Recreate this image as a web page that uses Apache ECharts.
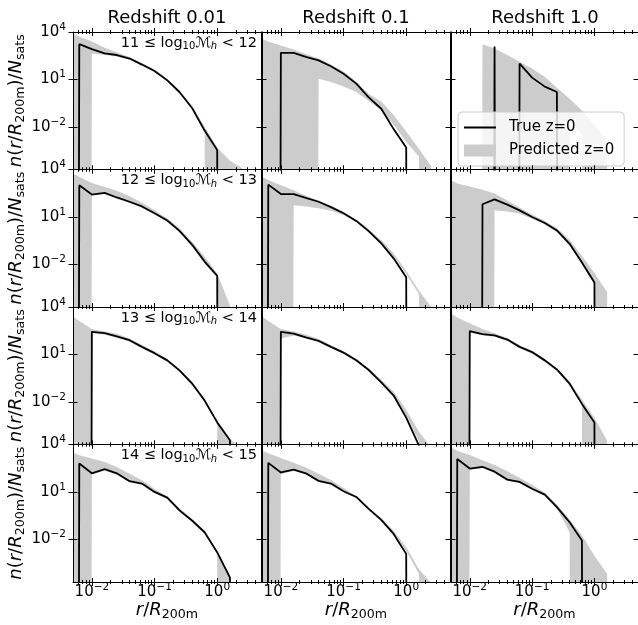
<!DOCTYPE html>
<html><head><meta charset="utf-8">
<script src="https://cdn.jsdelivr.net/npm/echarts@6/dist/echarts.min.js"></script>
<style>html,body{margin:0;padding:0;background:#fff}#c{width:638px;height:625px}</style>
</head><body><div id="c"></div>
<script>
// ---- data (bin centres in r/R200m; values of n(r/R200m)/Nsats, 0 = empty bin) ----
const radius = [0.004, 0.0063, 0.01, 0.016, 0.025, 0.04, 0.063, 0.1, 0.16, 0.25, 0.4, 0.63, 1.0, 1.6, 2.5, 4.0];
const redshiftTitles = ['Redshift 0.01', 'Redshift 0.1', 'Redshift 1.0'];
const massBins = [[11, 12], [12, 13], [13, 14], [14, 15]];
const xMajorTicks = [0.01, 0.1, 1];
const xMinorTicks = [0.006, 0.007, 0.008, 0.009, 0.02, 0.03, 0.04, 0.05, 0.06, 0.07, 0.08, 0.09, 0.2, 0.3, 0.4, 0.5, 0.6, 0.7, 0.8, 0.9, 2, 3, 4];
const yMajorTicks = [1e4, 10, 0.01];

// mass bin 11-12
const line_M11_z001  = [0, 1.7e3, 8.3e2, 4.4e2, 3.5e2, 2.1e2, 87, 34, 8.7, 1.6, 0.15, 5.8e-3, 3.4e-4, 0, 0, 0];
const upper_M11_z001 = [1.3e4, 5.2e3, 2.5e3, 1.0e3, 5.2e2, 2.6e2, 1.1e2, 42, 11, 1.9, 0.2, 0.01, 5.0e-4, 7.1e-5, 2.5e-5, 0];
const lower_M11_z001 = [0, 0, 4.4e2, 3.5e2, 2.8e2, 1.8e2, 76, 30, 7.6, 1.3, 0.12, 4.5e-3, 0, 0, 0, 0];
const line_M11_z01   = [0, 0, 4.8e2, 4.8e2, 2.7e2, 1.6e2, 68, 23, 5.4, 0.76, 0.14, 7.2e-3, 4.9e-4, 0, 0, 0];
const upper_M11_z01  = [5.6e3, 2.5e3, 1.4e3, 7.9e2, 4.0e2, 2.1e2, 89, 32, 7.1, 1.26, 0.4, 0.056, 5.0e-3, 4.0e-4, 3.2e-5, 0];
const lower_M11_z01  = [0, 0, 0, 0, 0, 11, 6.9, 3.6, 1.6, 0.45, 0.11, 0.014, 1.1e-3, 1.3e-4, 0, 0];
const line_M11_z1    = [0, 0, 0, 0, 1.2e3, 0, 1.0e2, 13, 3.5, 1.6, 0, 0, 0, 0, 0, 0];
const upper_M11_z1   = [0, 0, 0, 1.7e3, 9.1e2, 3.5e2, 1.3e2, 49, 14, 3.0, 0.6, 0.11, 0.013, 1.3e-3, 0, 0];
const lower_M11_z1   = [0, 0, 0, 0, 0, 0, 0, 0, 0, 0, 0.032, 3.2e-3, 0, 0, 0, 0];
// mass bin 12-13
const line_M12_z001  = [0, 1.0e3, 2.6e2, 3.3e2, 1.7e2, 91, 46, 17, 5.9, 1.3, 0.17, 0.015, 1.9e-3, 0, 0, 0];
const upper_M12_z001 = [8.9e3, 3.5e3, 1.4e3, 7.9e2, 4.5e2, 2.0e2, 79, 26, 7.9, 1.9, 0.25, 0.031, 2.6e-3, 2.5e-5, 0, 0];
const lower_M12_z001 = [0, 0, 2.4e2, 2.8e2, 1.4e2, 76, 38, 14, 4.8, 1.07, 0.13, 0.011, 1.4e-3, 0, 0, 0];
const line_M12_z01   = [0, 1.1e3, 2.8e2, 2.8e2, 1.6e2, 91, 42, 17, 5.6, 1.3, 0.21, 0.024, 1.5e-3, 0, 0, 0];
const upper_M12_z01  = [5.6e3, 2.2e3, 1.0e3, 4.8e2, 2.2e2, 1.1e2, 50, 21, 6.6, 1.7, 0.35, 0.05, 4.0e-3, 2.1e-4, 2.0e-5, 0];
const lower_M12_z01  = [0, 0, 0, 55, 46, 36, 25, 13, 4.5, 1.05, 0.18, 0.032, 2.5e-3, 1.3e-4, 0, 0];
const line_M12_z1    = [0, 0, 0, 63, 1.3e2, 60, 26, 9.8, 4.1, 1.4, 0.2, 0.013, 7.1e-4, 0, 0, 0];
const upper_M12_z1   = [3.2e3, 1.3e3, 8.3e2, 5.2e2, 3.0e2, 1.1e2, 40, 14, 5.6, 2.0, 0.35, 0.035, 2.8e-3, 1.7e-4, 0, 0];
const lower_M12_z1   = [0, 0, 0, 0, 26, 22, 16, 7.6, 3.3, 1.07, 0.15, 0.011, 5.0e-4, 0, 0, 0];
// mass bin 13-14
const line_M13_z001  = [0, 0, 2.7e2, 2.2e2, 1.4e2, 79, 30, 12, 4.2, 0.98, 0.14, 0.012, 5.0e-4, 3.7e-5, 0, 0];
const upper_M13_z001 = [5.0e3, 1.3e3, 4.0e2, 2.8e2, 2.0e2, 1.0e2, 40, 16, 5.2, 1.26, 0.18, 0.016, 7.1e-4, 4.5e-5, 1.0e-5, 0];
const lower_M13_z001 = [0, 0, 2.2e2, 1.8e2, 1.1e2, 63, 25, 10, 3.3, 0.79, 0.11, 0.01, 4.0e-4, 0, 0, 0];
const line_M13_z01   = [0, 0, 2.7e2, 2.1e2, 1.2e2, 72, 30, 13, 4.3, 1.07, 0.17, 0.025, 1.0e-3, 1.7e-5, 0, 0];
const upper_M13_z01  = [5.0e3, 1.3e3, 4.0e2, 2.8e2, 1.8e2, 95, 40, 16, 5.2, 1.3, 0.25, 0.045, 3.2e-3, 1.3e-4, 1.3e-5, 0];
const lower_M13_z01  = [0, 0, 1.0e2, 1.6e2, 1.0e2, 60, 25, 11, 3.5, 0.89, 0.16, 0.025, 1.3e-3, 3.2e-5, 0, 0];
const line_M13_z1    = [0, 0, 3.0e2, 1.9e2, 1.6e2, 87, 30, 14, 4.2, 1.12, 0.14, 7.4e-3, 5.0e-4, 0, 0, 0];
const upper_M13_z1   = [7.1e3, 2.2e3, 9.5e2, 4.0e2, 2.2e2, 1.1e2, 40, 17, 5.2, 1.3, 0.19, 0.014, 1.0e-3, 3.4e-5, 0, 0];
const lower_M13_z1   = [0, 0, 2.4e2, 1.6e2, 1.3e2, 71, 25, 11, 3.3, 0.89, 0.11, 6.3e-3, 0, 0, 0, 0];
// mass bin 14-15
const line_M14_z001  = [0, 6.3e2, 1.5e2, 2.8e2, 1.5e2, 48, 34, 10, 4.4, 0.68, 0.15, 0.028, 1.5e-3, 3.8e-5, 0, 0];
const upper_M14_z001 = [4.5e3, 2.1e3, 1.3e3, 7.9e2, 3.8e2, 1.4e2, 54, 16, 5.2, 0.95, 0.19, 0.032, 2.0e-3, 5.0e-5, 0, 0];
const lower_M14_z001 = [0, 0, 1.3e2, 2.2e2, 1.2e2, 40, 28, 8.3, 3.5, 0.56, 0.13, 0.022, 1.1e-3, 0, 0, 0];
const line_M14_z01   = [0, 6.9e2, 1.7e2, 2.6e2, 1.5e2, 50, 34, 11, 4.8, 0.87, 0.17, 0.022, 1.2e-3, 0, 0, 0];
const upper_M14_z01  = [6.3e3, 2.8e3, 1.4e3, 7.1e2, 3.5e2, 1.4e2, 56, 18, 5.6, 1.05, 0.22, 0.035, 3.2e-3, 1.3e-4, 1.8e-5, 0];
const lower_M14_z01  = [0, 0, 1.3e2, 2.2e2, 1.3e2, 42, 28, 9.5, 4.0, 0.72, 0.14, 0.025, 1.8e-3, 6.3e-5, 0, 0];
const line_M14_z1    = [0, 1.2e3, 3.0e2, 3.9e2, 1.9e2, 60, 43, 16, 6.8, 1.1, 0.12, 8.3e-3, 0, 0, 0, 0];
const upper_M14_z1   = [1.0e4, 4.0e3, 2.2e3, 1.0e3, 5.0e2, 2.0e2, 79, 28, 8.9, 1.6, 0.18, 0.018, 9.1e-4, 6.3e-5, 0, 0];
const lower_M14_z1   = [0, 0, 2.5e2, 3.2e2, 1.6e2, 50, 35, 13, 5.6, 0.89, 0.028, 0, 0, 0, 0, 0];

const panels = [
  [line_M11_z001, upper_M11_z001, lower_M11_z001], [line_M11_z01, upper_M11_z01, lower_M11_z01], [line_M11_z1, upper_M11_z1, lower_M11_z1],
  [line_M12_z001, upper_M12_z001, lower_M12_z001], [line_M12_z01, upper_M12_z01, lower_M12_z01], [line_M12_z1, upper_M12_z1, lower_M12_z1],
  [line_M13_z001, upper_M13_z001, lower_M13_z001], [line_M13_z01, upper_M13_z01, lower_M13_z01], [line_M13_z1, upper_M13_z1, lower_M13_z1],
  [line_M14_z001, upper_M14_z001, lower_M14_z001], [line_M14_z01, upper_M14_z01, lower_M14_z01], [line_M14_z1, upper_M14_z1, lower_M14_z1]
];

// ---- layout / style ----
const F = 'DejaVu Sans';
const colLeft = [73, 262, 451];
const gridW = 188, rowTop = 32, rowH = 137.5;
const XMIN = 0.005, XMAX = 5, YMIN = 2e-5, YMAX = 1e4;
const EMPTY = 1e-300; // stands for an empty bin (log of zero)
const GRAY = '#cccccc';
const pos = v => (v > 0 ? v : EMPTY);

const tickRich = {
  b: {fontSize: 15, fontFamily: F, color: '#000'},
  p: {fontSize: 10.5, fontFamily: F, color: '#000', padding: [0, 0, 10, 0]}
};
const nameRich = {
  t: {fontSize: 18, fontFamily: F, color: '#000'},
  i: {fontSize: 18, fontFamily: F, color: '#000', fontStyle: 'italic'},
  s: {fontSize: 12.6, fontFamily: F, color: '#000', padding: [9, 0, 0, 0]}
};
function powLabel(v) {
  const e = Math.round(Math.log10(v));
  return '{b|10}{p|' + (e < 0 ? '\u2212' + (-e) : e) + '}';
}
const tickLine = {color: '#000', width: 1};

function axisBase(g, position, extra, isX) {
  return Object.assign({
    type: 'log', logBase: 10, gridIndex: g, position: position,
    min: isX ? XMIN : YMIN, max: isX ? XMAX : YMAX, z: 10,
    axisLine: {show: false}, axisLabel: {show: false}, splitLine: {show: false}, axisTick: {show: false}
  }, extra);
}
function tickOnly(g, position, inside, len, vals, isX) {
  return axisBase(g, position, {axisTick: {show: true, inside: inside, length: len, customValues: vals, lineStyle: tickLine}}, isX);
}

const option = {
  animation: false,
  textStyle: {fontFamily: F},
  grid: [], xAxis: [], yAxis: [], series: [], graphic: [],
  legend: {
    data: [
      {name: 'True z=0', icon: 'path://M0,0H32V2H0Z'},
      {name: 'Predicted z=0', icon: 'rect'}
    ],
    orient: 'vertical', left: 458, top: 112, itemWidth: 32, itemHeight: 12, itemGap: 8,
    padding: [8, 10, 8, 6], borderColor: '#cccccc', borderWidth: 1, borderRadius: 4,
    backgroundColor: 'rgba(255,255,255,0.8)', selectedMode: false,
    textStyle: {fontSize: 15, fontFamily: F, color: '#000', padding: [0, 0, 0, 8]}
  }
};

for (let r = 0; r < 4; r++) {
  for (let c = 0; c < 3; c++) {
    const g = r * 3 + c;
    option.grid.push({left: colLeft[c], top: rowTop + r * rowH, width: gridW, height: rowH});
    const xPrim = option.xAxis.length;
    option.xAxis.push(axisBase(g, 'bottom', {
      axisLine: {show: true, lineStyle: tickLine},
      axisTick: {show: true, inside: true, length: 4, customValues: xMajorTicks, lineStyle: tickLine},
      axisLabel: r === 3 ? {show: true, customValues: xMajorTicks, formatter: powLabel, margin: 0, rich: tickRich} : {show: false},
      name: r === 3 ? '{i|r}{t|/}{i|R}{s|200m}' : '', nameLocation: 'middle', nameGap: 16,
      nameTextStyle: {rich: nameRich}
    }, true));
    option.xAxis.push(tickOnly(g, 'bottom', false, 4, xMajorTicks, true));
    option.xAxis.push(tickOnly(g, 'bottom', true, 2, xMinorTicks, true));
    option.xAxis.push(tickOnly(g, 'bottom', false, 2, xMinorTicks, true));
    option.xAxis.push(axisBase(g, 'top', {
      axisLine: {show: true, lineStyle: tickLine},
      axisTick: {show: true, inside: true, length: 4, customValues: xMajorTicks, lineStyle: tickLine}
    }, true));
    option.xAxis.push(tickOnly(g, 'top', false, 4, xMajorTicks, true));
    option.xAxis.push(tickOnly(g, 'top', true, 2, xMinorTicks, true));
    option.xAxis.push(tickOnly(g, 'top', false, 2, xMinorTicks, true));

    const yPrim = option.yAxis.length;
    option.yAxis.push(axisBase(g, 'left', {
      axisLine: {show: true, lineStyle: tickLine},
      axisTick: {show: true, inside: true, length: 4.5, customValues: yMajorTicks, lineStyle: tickLine},
      axisLabel: c === 0 ? {show: true, customValues: yMajorTicks, formatter: powLabel, margin: 7, rich: tickRich} : {show: false},
      name: c === 0 ? '{i|n}{t|(}{i|r}{t|/}{i|R}{s|200m}{t|)/}{i|N}{s|sats}' : '',
      nameLocation: 'middle', nameRotate: 90, nameGap: 29,
      nameTextStyle: {rich: nameRich}
    }, false));
    option.yAxis.push(tickOnly(g, 'left', false, 4.5, yMajorTicks, false));
    option.yAxis.push(axisBase(g, 'right', {
      axisLine: {show: true, lineStyle: tickLine},
      axisTick: {show: true, inside: true, length: 4.5, customValues: yMajorTicks, lineStyle: tickLine}
    }, false));
    option.yAxis.push(tickOnly(g, 'right', false, 4.5, yMajorTicks, false));

    const [lineVals, upVals, loVals] = panels[g];
    option.series.push({
      name: 'Predicted z=0', type: 'custom', coordinateSystem: 'cartesian2d',
      xAxisIndex: xPrim, yAxisIndex: yPrim, clip: true, z: 2,
      itemStyle: {color: GRAY},
      data: [[1, 1]],
      renderItem: function (params, api) {
        const pts = [];
        for (let i = 0; i < radius.length; i++) pts.push(api.coord([radius[i], pos(upVals[i])]));
        for (let i = radius.length - 1; i >= 0; i--) pts.push(api.coord([radius[i], pos(loVals[i])]));
        const cs = params.coordSys;
        return {
          type: 'polygon', shape: {points: pts}, style: {fill: GRAY, stroke: null},
          clipPath: {type: 'rect', shape: {x: cs.x, y: cs.y, width: cs.width, height: cs.height}}
        };
      }
    });
    option.series.push({
      name: 'True z=0', type: 'line', xAxisIndex: xPrim, yAxisIndex: yPrim, z: 3,
      symbol: 'none', clip: true, itemStyle: {color: '#000'},
      lineStyle: {color: '#000', width: 1.8},
      data: radius.map((x, i) => [x, pos(lineVals[i])])
    });
  }
}

// column titles
for (let c = 0; c < 3; c++) {
  option.graphic.push({type: 'text', x: colLeft[c] + gridW / 2, y: 18, z: 20,
    style: {text: redshiftTitles[c], fontSize: 18, fontFamily: F, fill: '#000',
      align: 'center', textAlign: 'center', verticalAlign: 'middle', textVerticalAlign: 'middle'}});
}
// mass-bin annotations
const annRich = {
  t: {fontSize: 14.5, fontFamily: F, fill: '#000'},
  c: {fontSize: 14.5, fontFamily: F, fill: '#000'},
  s: {fontSize: 10, fontFamily: F, fill: '#000', padding: [7, 0, 0, 0]},
  si: {fontSize: 10, fontFamily: F, fill: '#000', fontStyle: 'italic', padding: [7, 0, 0, 0]}
};
for (let r = 0; r < 4; r++) {
  const [lo, hi] = massBins[r];
  option.graphic.push({type: 'text', x: colLeft[0] + gridW - 4, y: rowTop + r * rowH + 11, z: 20,
    style: {text: '{t|' + lo + ' \u2264 log}{s|10}{c|\u2133}{si|h}{t| < ' + hi + '}', rich: annRich,
      fontSize: 14.5, fontFamily: F, fill: '#000',
      align: 'right', textAlign: 'right', verticalAlign: 'middle', textVerticalAlign: 'middle'}});
}

const chart = echarts.init(document.getElementById('c'), null, {renderer: 'canvas'});
chart.setOption(option);
</script>
</body></html>
